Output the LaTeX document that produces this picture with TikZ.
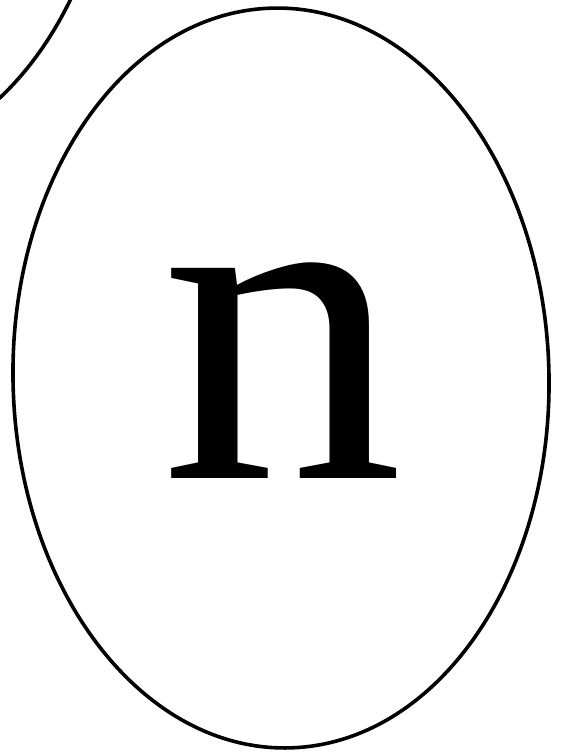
\documentclass[tikz,border=0pt]{standalone}
\usepackage{fontspec}
\setmainfont{Liberation Serif}
\usetikzlibrary{shapes.geometric}

\begin{document}
\begin{tikzpicture}[
    x=1pt, y=-1pt,
    bubble/.style={draw, ellipse, line width=3.6pt,
                   minimum width=536pt, minimum height=740pt,
                   inner sep=0pt, rotate=1.2},
    glyph/.style={font=\fontsize{482}{482}\selectfont, inner sep=0pt,
                  xscale=1.01, yscale=0.95}
  ]
  \useasboundingbox (0,0) rectangle (565,752);

  % ellipse cut off at the upper left
  \node[bubble] (prev) at (-153,-209) {};

  % main ellipse and its letter
  \node[bubble] (n) at (281,378) {};
  \node[glyph] (nlabel) at (282.5,371) {n};
\end{tikzpicture}
\end{document}
